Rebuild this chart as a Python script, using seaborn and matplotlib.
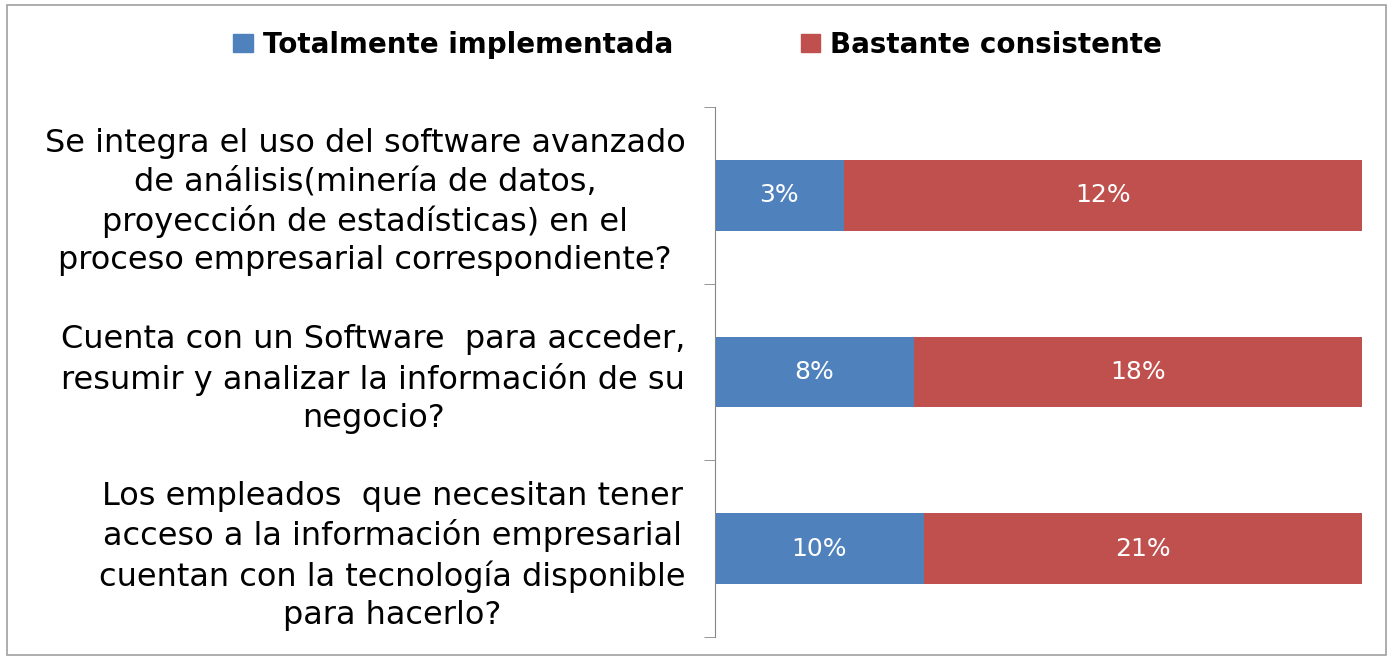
import pandas as pd
import seaborn as sns
import matplotlib.pyplot as plt
from matplotlib.patches import Rectangle

# datos
preguntas = [
    "Se integra el uso del software avanzado\nde análisis(minería de datos,\nproyección de estadísticas) en el\nproceso empresarial correspondiente?",
    "Cuenta con un Software  para acceder,\nresumir y analizar la información de su\nnegocio?",
    "Los empleados  que necesitan tener\nacceso a la información empresarial\ncuentan con la tecnología disponible\npara hacerlo?",
]
totalmente = [3, 8, 10]
bastante = [12, 18, 21]
series = ["Totalmente implementada", "Bastante consistente"]
colores = ["#4F81BD", "#C0504D"]

df = pd.DataFrame({"pregunta": preguntas, "tot": totalmente, "bas": bastante})
df["total"] = df["tot"] + df["bas"]
df["share_tot"] = df["tot"] / df["total"]
df["share_all"] = 1.0

sns.set_style("white")
plt.rcParams["font.family"] = ["DejaVu Sans"]
plt.rcParams["text.color"] = "black"
plt.rcParams["ytick.color"] = "black"

fig = plt.figure(figsize=(13.93, 6.6), dpi=100)
ax = fig.add_axes([0.513, 0.035, 0.465, 0.803])

# barras apiladas al 100%: primero el total (rojo), luego la parte azul encima
sns.barplot(data=df, y="pregunta", x="share_all", color=colores[1], width=0.4,
            orient="h", ax=ax, saturation=1, edgecolor="none")
sns.barplot(data=df, y="pregunta", x="share_tot", color=colores[0], width=0.4,
            orient="h", ax=ax, saturation=1, edgecolor="none")

ax.set_xlim(0, 1)
ax.set_ylim(2.5, -0.5)
ax.set_xlabel("")
ax.set_ylabel("")
ax.set_xticks([])

# etiquetas de porcentaje
for i, r in df.iterrows():
    ax.text(r["share_tot"] / 2, i, f"{r['tot']}%", ha="center", va="center",
            color="white", fontsize=18)
    ax.text(r["share_tot"] + (1 - r["share_tot"]) / 2, i, f"{r['bas']}%",
            ha="center", va="center", color="white", fontsize=18)

for s in ["top", "right", "bottom"]:
    ax.spines[s].set_visible(False)
ax.spines["left"].set_color("#868686")

ax.set_yticks([-0.5, 0.5, 1.5, 2.5], minor=True)
ax.tick_params(axis="y", which="minor", length=8, color="#868686", left=True)
ax.tick_params(axis="y", which="major", length=0, pad=21)
ax.set_yticks(range(len(preguntas)))
ax.set_yticklabels(preguntas, fontsize=23, multialignment="center",
                   linespacing=1.3, color="black")

# leyenda
handles = [Rectangle((0, 0), 1, 1, color=c) for c in colores]
fig.legend(handles, series, loc="center", bbox_to_anchor=(0.501, 0.932), ncol=2,
           frameon=False, prop={"weight": "bold", "size": 20},
           handlelength=0.7, handleheight=0.6, handletextpad=0.36,
           columnspacing=4.6)

# borde del gráfico
fig.patches.append(Rectangle((0.005, 0.008), 0.99, 0.984, transform=fig.transFigure,
                             fill=False, edgecolor="#A0A0A0", linewidth=1.2))

fig.savefig("out.png", dpi=100)
